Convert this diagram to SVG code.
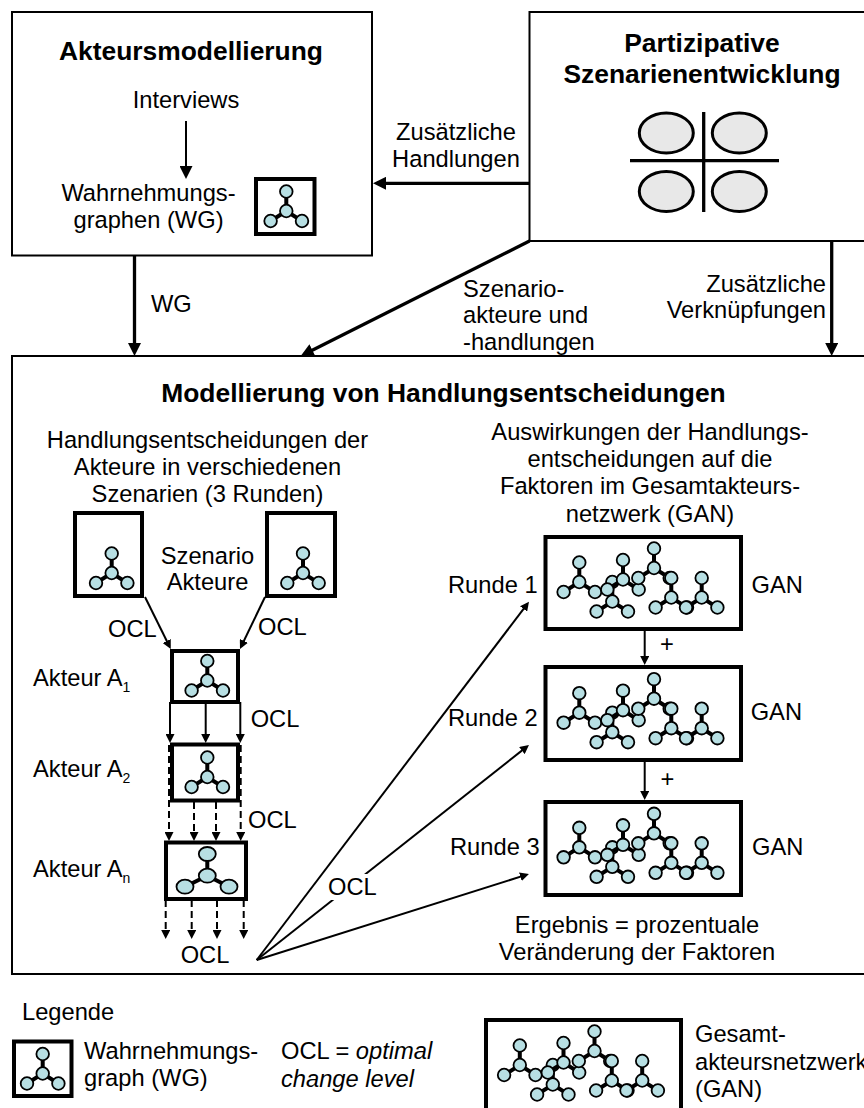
<svg xmlns="http://www.w3.org/2000/svg" width="864" height="1108" viewBox="0 0 864 1108">
<style>
text{font-family:"Liberation Sans",Arial,sans-serif;font-size:23.7px;fill:#000}
.b{font-weight:bold;font-size:26.4px}
.m{text-anchor:middle}
.e{text-anchor:end}
.i{font-style:italic}
.s{font-size:14px}
.box{fill:#fff;stroke:#000;stroke-width:2}
.ibox{fill:#fff;stroke:#000;stroke-width:4}
.gbox{fill:#fff;stroke:#000;stroke-width:4}
.lnk{stroke:#000;stroke-width:4;fill:none}
.n{fill:#b7dfe3;stroke:#000;stroke-width:1.8}
.el{fill:#e8e8e8;stroke:#000;stroke-width:3}
.q{stroke:#000;stroke-width:3.3;fill:none}
.c3{stroke:#000;stroke-width:3.3;fill:none}
.c2{stroke:#000;stroke-width:2;fill:none}
.d{stroke:#000;stroke-width:2;fill:none;stroke-dasharray:7 4}
</style>
<defs>
<marker id="big" markerUnits="userSpaceOnUse" markerWidth="13" markerHeight="13" refX="9" refY="6.5" orient="auto"><path d="M0 0L13 6.5L0 13z" fill="#000"/></marker>
<marker id="mid" markerUnits="userSpaceOnUse" markerWidth="9" markerHeight="9" refX="6" refY="4.5" orient="auto"><path d="M0 0L9 4.5L0 9z" fill="#000"/></marker>
<g id="tri">
<path class="lnk" d="M0-19.5V0M-15.7 10L0 0L15.7 10"/>
<circle class="n" cx="0" cy="-19.5" r="6.3"/><circle class="n" cx="0" cy="0" r="6.3"/><circle class="n" cx="-15.7" cy="10" r="6.3"/><circle class="n" cx="15.7" cy="10" r="6.3"/>
</g>
<g id="net">
<use href="#tri" x="579.3" y="582"/>
<use href="#tri" x="612.3" y="601.5"/>
<use href="#tri" x="623" y="579.5"/>
<use href="#tri" x="654" y="568"/>
<use href="#tri" x="671.3" y="597.5"/>
<use href="#tri" x="701.7" y="597.5"/>
</g>
</defs>
<rect width="864" height="1108" fill="#fff"/>

<g id="akteursmodellierung">
<rect class="box" x="12" y="12" width="360" height="243.5"/>
<text class="b m" x="191" y="59.5">Akteursmodellierung</text>
<text class="m" x="186" y="107.5">Interviews</text>
<text class="m" x="148.5" y="201">Wahrnehmungs-</text>
<text class="m" x="148.5" y="228">graphen (WG)</text>
<rect class="ibox" x="256" y="179" width="58.5" height="55"/>
<use href="#tri" x="286.3" y="211"/>
</g>

<g id="partizipative">
<rect class="box" x="529.5" y="12" width="340" height="229"/>
<text class="b m" x="702" y="52">Partizipative</text>
<text class="b m" x="702" y="83">Szenarienentwicklung</text>
<ellipse class="el" cx="666.3" cy="133" rx="27" ry="20"/><ellipse class="el" cx="739.3" cy="133" rx="27" ry="20"/>
<ellipse class="el" cx="666.3" cy="191.5" rx="27" ry="20"/><ellipse class="el" cx="739.3" cy="191.5" rx="27" ry="20"/>
<path class="q" d="M703.7 112V212M630 160.7H779"/>
</g>

<g id="modellierung">
<rect class="box" x="12" y="356" width="860" height="618"/>
<text class="b m" x="443.5" y="402">Modellierung von Handlungsentscheidungen</text>
<text class="m" x="207.5" y="448">Handlungsentscheidungen der</text>
<text class="m" x="207.5" y="475">Akteure in verschiedenen</text>
<text class="m" x="207.5" y="502">Szenarien (3 Runden)</text>
<text class="m" x="650" y="440">Auswirkungen der Handlungs-</text>
<text class="m" x="650" y="467">entscheidungen auf die</text>
<text class="m" x="650" y="494">Faktoren im Gesamtakteurs-</text>
<text class="m" x="650" y="522">netzwerk (GAN)</text>
<text class="m" x="207.5" y="564">Szenario</text>
<text class="m" x="207.5" y="590">Akteure</text>
<text x="33" y="686">Akteur A<tspan class="s" dy="6">1</tspan></text>
<text x="33" y="777">Akteur A<tspan class="s" dy="6">2</tspan></text>
<text x="33" y="877">Akteur A<tspan class="s" dy="6">n</tspan></text>
<text class="m" x="637" y="933">Ergebnis = prozentuale</text>
<text class="m" x="637" y="960">Veränderung der Faktoren</text>
</g>

<g id="szenario-akteur-links"><rect class="ibox" x="75" y="513" width="67" height="83"/><use href="#tri" x="111.7" y="573"/></g>
<g id="szenario-akteur-rechts"><rect class="ibox" x="267" y="513" width="68" height="83"/><use href="#tri" x="303" y="573"/></g>
<g id="akteur-a1"><rect class="ibox" x="172" y="651" width="66" height="51"/><use href="#tri" x="207.3" y="680.5"/></g>
<g id="akteur-a2"><rect class="ibox" x="172" y="744.5" width="66" height="56"/><use href="#tri" x="207.3" y="777"/></g>
<g id="akteur-an"><rect class="ibox" x="166" y="842.5" width="80" height="56.5"/>
<path class="lnk" d="M207.3 854V875.7M185 886.7L207.3 875.7L229 886.7"/>
<ellipse class="n" cx="207.3" cy="854" rx="8.5" ry="7"/><ellipse class="n" cx="207.3" cy="875.7" rx="8.5" ry="7"/><ellipse class="n" cx="185" cy="886.7" rx="8.5" ry="7"/><ellipse class="n" cx="229" cy="886.7" rx="8.5" ry="7"/></g>

<g id="gan-1"><rect class="gbox" x="545.5" y="537" width="195.5" height="92"/><use href="#net"/></g>
<g id="gan-2"><rect class="gbox" x="545.5" y="667" width="195.5" height="93"/><use href="#net" y="130.7"/></g>
<g id="gan-3"><rect class="gbox" x="545.5" y="802" width="195.5" height="93"/><use href="#net" y="265.3"/></g>

<g id="connectors">
<path class="c2" d="M186 121V175" marker-end="url(#big)"/>
<path class="c3" d="M134.5 255V352" marker-end="url(#big)"/>
<path class="c3" d="M529 183.3H377" marker-end="url(#big)"/>
<path class="c3" d="M529.5 241L304.3 354.2" marker-end="url(#big)"/>
<path class="c3" d="M831.7 241V352" marker-end="url(#big)"/>
<path class="c2" d="M145 597L169.4 646.3" marker-end="url(#mid)"/>
<path class="c2" d="M265 597L241.3 646.3" marker-end="url(#mid)"/>
<path class="c2" d="M170 702V740" marker-end="url(#mid)"/>
<path class="c2" d="M205.7 702V740" marker-end="url(#mid)"/>
<path class="c2" d="M240.3 702V740" marker-end="url(#mid)"/>
<path class="d" d="M169 745V838" marker-end="url(#mid)"/>
<path class="d" d="M194 802V838" marker-end="url(#mid)"/>
<path class="d" d="M216 802V838" marker-end="url(#mid)"/>
<path class="d" d="M240.7 745V838" marker-end="url(#mid)"/>
<path class="d" d="M165.7 900V936" marker-end="url(#mid)"/>
<path class="d" d="M191.7 900V936" marker-end="url(#mid)"/>
<path class="d" d="M217 900V936" marker-end="url(#mid)"/>
<path class="d" d="M243.7 900V936" marker-end="url(#mid)"/>
<path class="c2" d="M256.7 960L527.2 604.1" marker-end="url(#mid)"/>
<path class="c2" d="M256.7 960L526.6 746.9" marker-end="url(#mid)"/>
<path class="c2" d="M256.7 960L526.1 874.9" marker-end="url(#mid)"/>
<path class="c2" d="M644.7 629V662" marker-end="url(#mid)"/>
<path class="c2" d="M644.7 760V797" marker-end="url(#mid)"/>
</g>

<g id="labels">
<text x="151" y="312">WG</text>
<text class="m" x="456" y="140">Zusätzliche</text>
<text class="m" x="456" y="167">Handlungen</text>
<text x="463" y="297">Szenario-</text>
<text x="463" y="323">akteure und</text>
<text x="463" y="349.5">-handlungen</text>
<text class="e" x="826" y="292">Zusätzliche</text>
<text class="e" x="826" y="318">Verknüpfungen</text>
<text x="108" y="637">OCL</text>
<text x="258" y="635">OCL</text>
<text x="250.7" y="727">OCL</text>
<text x="248" y="828">OCL</text>
<text class="m" x="205" y="963">OCL</text>
<rect x="326" y="874" width="52" height="26" fill="#fff"/>
<text x="328" y="895">OCL</text>
<text x="448" y="592.5">Runde 1</text>
<text x="448" y="726">Runde 2</text>
<text x="450" y="855">Runde 3</text>
<text x="751.5" y="593">GAN</text>
<text x="750.7" y="720">GAN</text>
<text x="752" y="855">GAN</text>
<text class="m" x="667" y="652">+</text>
<text class="m" x="667.5" y="787">+</text>
</g>

<g id="legende">
<text x="22" y="1019.5">Legende</text>
<rect class="ibox" x="14" y="1041.5" width="57.5" height="54.5"/>
<use href="#tri" x="42.7" y="1073.5"/>
<text x="84" y="1058.5">Wahrnehmungs-</text>
<text x="84" y="1086">graph (WG)</text>
<text x="281" y="1058.5">OCL = <tspan class="i">optimal</tspan></text>
<text class="i" x="281" y="1086.5">change level</text>
<rect class="gbox" x="486" y="1020" width="195" height="100"/>
<use href="#net" x="-59.5" y="483"/>
<text x="695" y="1041.5">Gesamt-</text>
<text x="695" y="1069.5">akteursnetzwerk</text>
<text x="695" y="1097">(GAN)</text>
</g>
</svg>
